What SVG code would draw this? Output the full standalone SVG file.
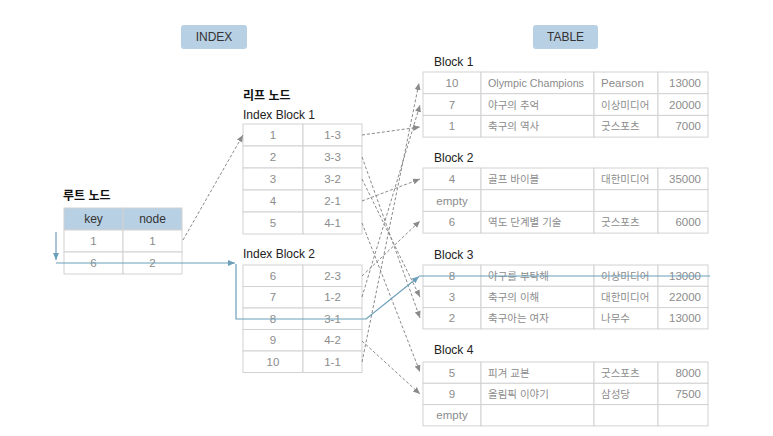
<svg xmlns="http://www.w3.org/2000/svg" width="773" height="436" viewBox="0 0 773 436">
<style>
text{font-family:"Liberation Sans","Noto Sans CJK KR",sans-serif;}
.cell{fill:#fff;stroke:#d2d2d2;stroke-width:1;}
.hdr{fill:#b8d0e3;stroke:#d2d2d2;stroke-width:1;}
.badge{fill:#b8d0e3;}
.t{font-size:11.5px;fill:#8c8c8c;}
.k{font-size:10.5px;}
.h{font-size:12px;fill:#333;}
.lbl{font-size:12px;fill:#222;}
.ttl{font-size:12px;fill:#111;font-weight:bold;}
.m{text-anchor:middle;}
.e{text-anchor:end;}
.dash{fill:none;stroke:#8a8a8a;stroke-width:1;stroke-dasharray:3,2;marker-end:url(#ag);}
.blue{fill:none;stroke:#6b9fba;stroke-width:1.2;}
</style>
<defs>
<marker id="ag" markerWidth="8" markerHeight="8" refX="7" refY="4" orient="auto" markerUnits="userSpaceOnUse"><path d="M0,1 L7,4 L0,7 Z" fill="#8a8a8a"/></marker>
<marker id="ab" markerWidth="8" markerHeight="8" refX="7" refY="4" orient="auto" markerUnits="userSpaceOnUse"><path d="M0,1 L7,4 L0,7 Z" fill="#6b9fba"/></marker>
</defs>
<rect width="773" height="436" fill="#fff"/>

<g id="index-label">
<rect class="badge" x="181" y="25" width="66" height="24" rx="3"/>
<text class="h m" x="214" y="41" font-size="12.5">INDEX</text>
</g>
<g id="table-label">
<rect class="badge" x="533" y="25" width="65" height="24" rx="3"/>
<text class="h m" x="565.5" y="41" font-size="12.5">TABLE</text>
</g>

<g id="root-node">
<text class="ttl" x="63" y="200">루트 노드</text>
<rect class="hdr" x="64" y="208" width="59" height="22"/>
<rect class="hdr" x="123" y="208" width="59" height="22"/>
<text class="h m" x="93.5" y="223">key</text>
<text class="h m" x="152.5" y="223">node</text>
<rect class="cell" x="64" y="230" width="59" height="22"/>
<rect class="cell" x="123" y="230" width="59" height="22"/>
<rect class="cell" x="64" y="252" width="59" height="22"/>
<rect class="cell" x="123" y="252" width="59" height="22"/>
<text class="t m" x="93.5" y="245">1</text>
<text class="t m" x="152.5" y="245">1</text>
<text class="t m" x="93.5" y="267">6</text>
<text class="t m" x="152.5" y="267">2</text>
</g>

<g id="index-block-1">
<text class="ttl" x="243" y="100">리프 노드</text>
<text class="lbl" x="243" y="119">Index Block 1</text>
<rect class="cell" x="243" y="124" width="60" height="22"/><rect class="cell" x="303" y="124" width="59" height="22"/>
<rect class="cell" x="243" y="146" width="60" height="22"/><rect class="cell" x="303" y="146" width="59" height="22"/>
<rect class="cell" x="243" y="168" width="60" height="22"/><rect class="cell" x="303" y="168" width="59" height="22"/>
<rect class="cell" x="243" y="190" width="60" height="22"/><rect class="cell" x="303" y="190" width="59" height="22"/>
<rect class="cell" x="243" y="212" width="60" height="22"/><rect class="cell" x="303" y="212" width="59" height="22"/>
<text class="t m" x="273" y="139">1</text><text class="t m" x="332.5" y="139">1-3</text>
<text class="t m" x="273" y="161">2</text><text class="t m" x="332.5" y="161">3-3</text>
<text class="t m" x="273" y="183">3</text><text class="t m" x="332.5" y="183">3-2</text>
<text class="t m" x="273" y="205">4</text><text class="t m" x="332.5" y="205">2-1</text>
<text class="t m" x="273" y="227">5</text><text class="t m" x="332.5" y="227">4-1</text>
</g>

<g id="index-block-2">
<text class="lbl" x="243" y="258">Index Block 2</text>
<rect class="cell" x="243" y="265" width="60" height="21.5"/><rect class="cell" x="303" y="265" width="59" height="21.5"/>
<rect class="cell" x="243" y="286.5" width="60" height="21.5"/><rect class="cell" x="303" y="286.5" width="59" height="21.5"/>
<rect class="cell" x="243" y="308" width="60" height="21.5"/><rect class="cell" x="303" y="308" width="59" height="21.5"/>
<rect class="cell" x="243" y="329.5" width="60" height="21.5"/><rect class="cell" x="303" y="329.5" width="59" height="21.5"/>
<rect class="cell" x="243" y="351" width="60" height="21.5"/><rect class="cell" x="303" y="351" width="59" height="21.5"/>
<text class="t m" x="273" y="280">6</text><text class="t m" x="332.5" y="280">2-3</text>
<text class="t m" x="273" y="301">7</text><text class="t m" x="332.5" y="301">1-2</text>
<text class="t m" x="273" y="323">8</text><text class="t m" x="332.5" y="323">3-1</text>
<text class="t m" x="273" y="344">9</text><text class="t m" x="332.5" y="344">4-2</text>
<text class="t m" x="273" y="366">10</text><text class="t m" x="332.5" y="366">1-1</text>
</g>

<g id="block-1">
<text class="lbl" x="434" y="66">Block 1</text>
<rect class="cell" x="423" y="72" width="58" height="21.7"/><rect class="cell" x="481" y="72" width="113" height="21.7"/><rect class="cell" x="594" y="72" width="64" height="21.7"/><rect class="cell" x="658" y="72" width="50" height="21.7"/>
<rect class="cell" x="423" y="93.7" width="58" height="21.7"/><rect class="cell" x="481" y="93.7" width="113" height="21.7"/><rect class="cell" x="594" y="93.7" width="64" height="21.7"/><rect class="cell" x="658" y="93.7" width="50" height="21.7"/>
<rect class="cell" x="423" y="115.4" width="58" height="21.7"/><rect class="cell" x="481" y="115.4" width="113" height="21.7"/><rect class="cell" x="594" y="115.4" width="64" height="21.7"/><rect class="cell" x="658" y="115.4" width="50" height="21.7"/>
<text class="t m" x="452" y="87">10</text><text class="t" x="488" y="87" textLength="96" lengthAdjust="spacingAndGlyphs">Olympic Champions</text><text class="t" x="601" y="87">Pearson</text><text class="t e" x="701" y="87">13000</text>
<text class="t m" x="452" y="109">7</text><text class="t k" x="488" y="108.5">야구의 추억</text><text class="t k" x="601" y="108.5">이상미디어</text><text class="t e" x="701" y="109">20000</text>
<text class="t m" x="452" y="130">1</text><text class="t k" x="488" y="129.5">축구의 역사</text><text class="t k" x="601" y="129.5">굿스포츠</text><text class="t e" x="701" y="130">7000</text>
</g>

<g id="block-2">
<text class="lbl" x="434" y="162">Block 2</text>
<rect class="cell" x="423" y="168" width="58" height="21.7"/><rect class="cell" x="481" y="168" width="113" height="21.7"/><rect class="cell" x="594" y="168" width="64" height="21.7"/><rect class="cell" x="658" y="168" width="50" height="21.7"/>
<rect class="cell" x="423" y="189.7" width="58" height="21.7"/><rect class="cell" x="481" y="189.7" width="113" height="21.7"/><rect class="cell" x="594" y="189.7" width="64" height="21.7"/><rect class="cell" x="658" y="189.7" width="50" height="21.7"/>
<rect class="cell" x="423" y="211.4" width="58" height="21.7"/><rect class="cell" x="481" y="211.4" width="113" height="21.7"/><rect class="cell" x="594" y="211.4" width="64" height="21.7"/><rect class="cell" x="658" y="211.4" width="50" height="21.7"/>
<text class="t m" x="452" y="183">4</text><text class="t k" x="488" y="182.5">골프 바이블</text><text class="t k" x="601" y="182.5">대한미디어</text><text class="t e" x="701" y="183">35000</text>
<text class="t m" x="452" y="205">empty</text>
<text class="t m" x="452" y="226">6</text><text class="t k" x="488" y="225.5">역도 단계별 기술</text><text class="t k" x="601" y="225.5">굿스포츠</text><text class="t e" x="701" y="226">6000</text>
</g>

<g id="block-3">
<text class="lbl" x="434" y="259">Block 3</text>
<rect class="cell" x="423" y="265" width="58" height="21.3"/><rect class="cell" x="481" y="265" width="113" height="21.3"/><rect class="cell" x="594" y="265" width="64" height="21.3"/><rect class="cell" x="658" y="265" width="50" height="21.3"/>
<rect class="cell" x="423" y="286.3" width="58" height="21.3"/><rect class="cell" x="481" y="286.3" width="113" height="21.3"/><rect class="cell" x="594" y="286.3" width="64" height="21.3"/><rect class="cell" x="658" y="286.3" width="50" height="21.3"/>
<rect class="cell" x="423" y="307.6" width="58" height="21.3"/><rect class="cell" x="481" y="307.6" width="113" height="21.3"/><rect class="cell" x="594" y="307.6" width="64" height="21.3"/><rect class="cell" x="658" y="307.6" width="50" height="21.3"/>
<text class="t m" x="452" y="280">8</text><text class="t k" x="488" y="279.5">야구를 부탁해</text><text class="t k" x="601" y="279.5">이상미디어</text><text class="t e" x="701" y="280">13000</text>
<text class="t m" x="452" y="301">3</text><text class="t k" x="488" y="300.5">축구의 이해</text><text class="t k" x="601" y="300.5">대한미디어</text><text class="t e" x="701" y="301">22000</text>
<text class="t m" x="452" y="322">2</text><text class="t k" x="488" y="321.5">축구아는 여자</text><text class="t k" x="601" y="321.5">나무수</text><text class="t e" x="701" y="322">13000</text>
</g>

<g id="block-4">
<text class="lbl" x="434" y="354">Block 4</text>
<rect class="cell" x="423" y="362" width="58" height="21.3"/><rect class="cell" x="481" y="362" width="113" height="21.3"/><rect class="cell" x="594" y="362" width="64" height="21.3"/><rect class="cell" x="658" y="362" width="50" height="21.3"/>
<rect class="cell" x="423" y="383.3" width="58" height="21.3"/><rect class="cell" x="481" y="383.3" width="113" height="21.3"/><rect class="cell" x="594" y="383.3" width="64" height="21.3"/><rect class="cell" x="658" y="383.3" width="50" height="21.3"/>
<rect class="cell" x="423" y="404.6" width="58" height="21.3"/><rect class="cell" x="481" y="404.6" width="113" height="21.3"/><rect class="cell" x="594" y="404.6" width="64" height="21.3"/><rect class="cell" x="658" y="404.6" width="50" height="21.3"/>
<text class="t m" x="452" y="377">5</text><text class="t k" x="488" y="376.5">피겨 교본</text><text class="t k" x="601" y="376.5">굿스포츠</text><text class="t e" x="701" y="377">8000</text>
<text class="t m" x="452" y="398">9</text><text class="t k" x="488" y="397.5">올림픽 이야기</text><text class="t k" x="601" y="397.5">삼성당</text><text class="t e" x="701" y="398">7500</text>
<text class="t m" x="452" y="419">empty</text>
</g>

<g id="connectors">
<path class="dash" d="M183,240 L243,135"/>
<path class="dash" d="M362,135 L420,127"/>
<path class="dash" d="M362,157 L420,318"/>
<path class="dash" d="M362,179 L420,297"/>
<path class="dash" d="M362,201 L420,179"/>
<path class="dash" d="M362,223 L420,372"/>
<path class="dash" d="M362,276 L420,221"/>
<path class="dash" d="M362,297 L420,105"/>
<path class="dash" d="M362,341 L420,394"/>
<path class="dash" d="M362,362 L419,83"/>
<path class="blue" d="M56,232 L56,260" marker-end="url(#ab)"/>
<path class="blue" d="M56,263 L235,263" marker-end="url(#ab)"/>
<path class="blue" d="M236,264 L236,319 L366,319 L419,276.5" marker-end="url(#ab)"/>
<path class="blue" d="M419,276 L710,276"/>
</g>
</svg>
